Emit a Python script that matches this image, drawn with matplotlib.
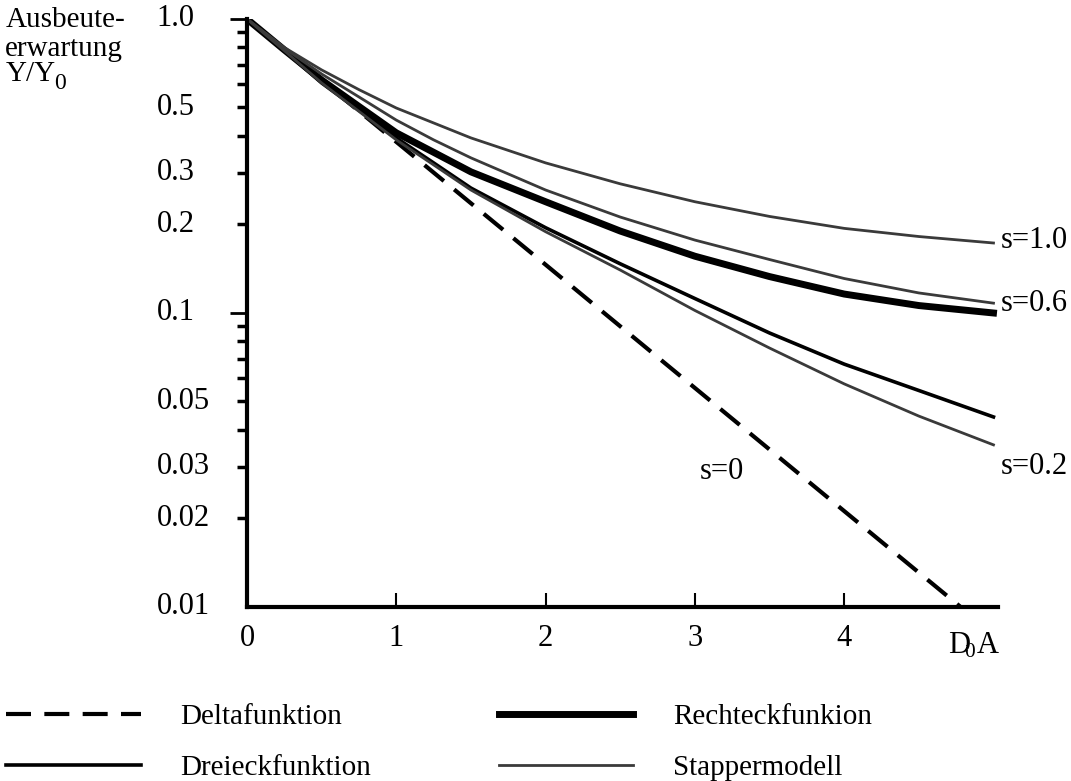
import matplotlib
matplotlib.use("Agg")
import matplotlib.pyplot as plt
from matplotlib.ticker import FixedLocator, NullFormatter

plt.rcParams['font.family'] = ['Liberation Serif', 'DejaVu Serif']
plt.rcParams['mathtext.fontset'] = 'custom'
plt.rcParams['mathtext.rm'] = 'Liberation Serif'
plt.rcParams['mathtext.it'] = 'Liberation Serif'

# D*A0 values
x_vals = [0, 0.25, 0.5, 0.75, 1, 1.25, 1.5, 2, 2.5, 3, 3.5, 4, 4.5, 5]

# yield expectation Y/Y0
stapper_s10 = [1.0, 0.80, 0.671, 0.575, 0.498, 0.443, 0.394, 0.324, 0.275, 0.239, 0.213, 0.194, 0.182, 0.173]
stapper_s06 = [1.0, 0.795, 0.650, 0.543, 0.453, 0.388, 0.337, 0.262, 0.212, 0.177, 0.152, 0.131, 0.117, 0.108]
rechteck_s06 = [1.0, 0.785, 0.620, 0.504, 0.410, 0.352, 0.302, 0.239, 0.190, 0.156, 0.133, 0.116, 0.106, 0.100]
dreieck_s02 = [1.0, 0.78, 0.606, 0.489, 0.394, 0.324, 0.266, 0.195, 0.147, 0.112, 0.0855, 0.067, 0.0545, 0.0443]
stapper_s02 = [1.0, 0.78, 0.606, 0.485, 0.388, 0.319, 0.262, 0.189, 0.140, 0.102, 0.076, 0.0574, 0.0446, 0.0356]

# delta function (s=0), straight line in the log plot
delta_x = [0, 1, 2, 3, 4, 4.78]
delta_y = [1.0, 0.382, 0.146, 0.0556, 0.0212, 0.01]

y_label_vals = [1.0, 0.5, 0.3, 0.2, 0.1, 0.05, 0.03, 0.02, 0.01]
y_label_txt = ['1.0', '0.5', '0.3', '0.2', '0.1', '0.05', '0.03', '0.02', '0.01']
y_major = [1.0, 0.1]
y_minor = [0.9, 0.8, 0.7, 0.6, 0.5, 0.4, 0.3, 0.2,
           0.09, 0.08, 0.07, 0.06, 0.05, 0.04, 0.03, 0.02]
x_ticks = [0, 1, 2, 3, 4]

fig = plt.figure(figsize=(10.71, 7.81), dpi=100)
ax = fig.add_axes([0.2306, 0.2228, 0.7012, 0.7529])

grey = '#3a3a3a'
ax.plot(delta_x, delta_y, color='black', lw=3, dashes=(6, 3.2), label='Deltafunktion')
ax.plot(x_vals, dreieck_s02, color='black', lw=2.6, label='Dreieckfunktion')
ax.plot(x_vals, rechteck_s06, color='black', lw=5, label='Rechteckfunkion')
ax.plot(x_vals, stapper_s10, color=grey, lw=2, label='Stappermodell')
ax.plot(x_vals, stapper_s06, color=grey, lw=2, label='_nolegend_')
ax.plot(x_vals, stapper_s02, color=grey, lw=2, label='_nolegend_')

ax.set_yscale('log')
ax.set_ylim(0.01, 1.0)
ax.set_xlim(0, 5.03)

for side in ['top', 'right']:
    ax.spines[side].set_visible(False)
for side in ['left', 'bottom']:
    ax.spines[side].set_linewidth(3)

# y ticks: long at the decades, short in between, labels set as text
ax.yaxis.set_major_locator(FixedLocator(y_major))
ax.yaxis.set_minor_locator(FixedLocator(y_minor))
ax.yaxis.set_major_formatter(NullFormatter())
ax.yaxis.set_minor_formatter(NullFormatter())
ax.tick_params(axis='y', which='major', direction='out', length=12, width=2)
ax.tick_params(axis='y', which='minor', direction='out', length=7, width=2.5)
for v, t in zip(y_label_vals, y_label_txt):
    ax.text(-0.12, v, t, transform=ax.get_yaxis_transform(), ha='left', va='center',
            fontsize=22)

ax.set_xticks(x_ticks)
ax.set_xticklabels([str(t) for t in x_ticks])
ax.tick_params(axis='x', direction='in', length=10, width=1.5, pad=12, labelsize=22)
ax.tick_params(axis='x', which='minor', bottom=False)

ax.text(4.87, -0.04, r'$\mathrm{D_{\!\!0}A}$', transform=ax.get_xaxis_transform(),
        ha='center', va='top', fontsize=22)

# y axis title in three lines
fig.text(0.005, 0.975, 'Ausbeute-', ha='left', va='center', fontsize=21)
fig.text(0.005, 0.937, 'erwartung', ha='left', va='center', fontsize=21)
fig.text(0.005, 0.905, 'Y/Y', ha='left', va='center', fontsize=21)
fig.text(0.051, 0.893, '0', ha='left', va='center', fontsize=17)

# curve labels
ax.text(5.05, 0.176, 's=1.0', fontsize=22, va='center', ha='left')
ax.text(5.05, 0.108, 's=0.6', fontsize=22, va='center', ha='left')
ax.text(5.05, 0.030, 's=0.2', fontsize=22, va='center', ha='left')
ax.text(3.03, 0.029, 's=0', fontsize=22, va='center', ha='left')

handles, labels = ax.get_legend_handles_labels()
fig.legend(handles, labels, loc='lower left', bbox_to_anchor=(0.006, 0.0), ncol=2,
           frameon=False, fontsize=21, handlelength=4.6, handletextpad=1.35,
           columnspacing=4.4, labelspacing=0.84, borderpad=0.0, borderaxespad=0.0)

fig.savefig('out.png', dpi=100, facecolor='white')
